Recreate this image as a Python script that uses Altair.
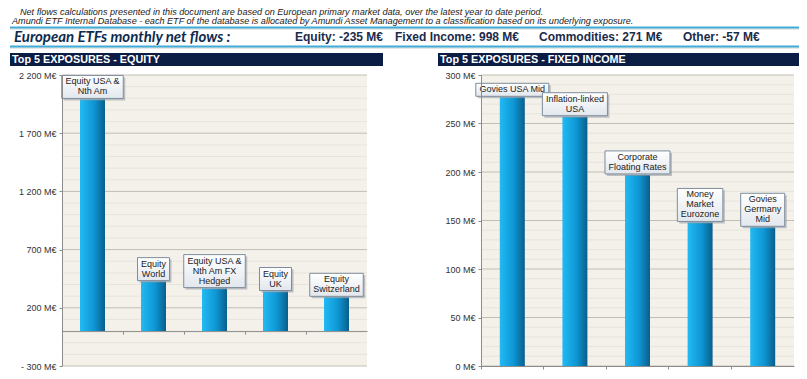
import altair as alt
import pandas as pd

# ---------------- data ----------------
note_lines = [
    "Net flows calculations presented in this document are based on European primary market data, over the latest  year to date period.",
    "Amundi ETF Internal Database - each ETF of the database is allocated by Amundi Asset Management to a classification based on its underlying exposure.",
]
headline = "European ETFs monthly net flows :"
flow_labels = ["Equity: -235 M€", "Fixed Income: 998 M€", "Commodities: 271 M€", "Other: -57 M€"]

eq_title = "Top 5 EXPOSURES - EQUITY"
eq_categories = ["Equity USA &\nNth Am", "Equity\nWorld", "Equity USA &\nNth Am FX\nHedged", "Equity\nUK", "Equity\nSwitzerland"]
eq_values = [1990, 425, 365, 340, 290]
eq_ticks = [-300, 200, 700, 1200, 1700, 2200]
eq_domain = [-300, 2200]

fi_title = "Top 5 EXPOSURES - FIXED INCOME"
fi_categories = ["Govies USA Mid", "Inflation-linked\nUSA", "Corporate\nFloating Rates", "Money\nMarket\nEurozone", "Govies\nGermany\nMid"]
fi_values = [277, 257, 197, 148, 143]
fi_ticks = [0, 50, 100, 150, 200, 250, 300]
fi_domain = [0, 300]

# ---------------- layout / style ----------------
W, H = 791, 363
Y_TOP, Y_BOT = 67, 358
EQ_X = [54, 359]
FI_X = [473, 786]
FONT = "Liberation Sans, Arial, sans-serif"
AX = "#8c8c8c"
PLOT_BG = "#f3f1ea"
MINOR = "#e7e4dc"
MAJOR = "#c2beb3"
NAVY = "#0b1d45"
CYAN = "#41acd8"

BAR_GRAD = alt.Gradient(
    gradient="linear",
    stops=[alt.GradientStop(color="#22baf3", offset=0),
           alt.GradientStop(color="#0e97d5", offset=0.55),
           alt.GradientStop(color="#0a5e8b", offset=1)],
    x1=0, x2=1, y1=0, y2=0,
)
BOX_GRAD = alt.Gradient(
    gradient="linear",
    stops=[alt.GradientStop(color="#ffffff", offset=0),
           alt.GradientStop(color="#e2e7ed", offset=1)],
    x1=0, x2=0, y1=0, y2=1,
)

ARIAL = {' ': 278, '&': 667, '-': 333, 'A': 667, 'C': 722, 'E': 667, 'F': 611, 'G': 778, 'H': 722,
         'I': 278, 'K': 667, 'M': 833, 'N': 722, 'R': 722, 'S': 667, 'U': 722, 'W': 944, 'Z': 611,
         'a': 556, 'b': 556, 'c': 500, 'd': 556, 'e': 556, 'f': 278, 'g': 556, 'h': 556, 'i': 222,
         'k': 500, 'l': 222, 'm': 833, 'n': 556, 'o': 556, 'p': 556, 'r': 333, 's': 500, 't': 278,
         'u': 556, 'v': 500, 'w': 722, 'y': 500, 'z': 500}


def box_width(label, size=9):
    return max(sum(ARIAL.get(c, 556) for c in ln) for ln in label.split("\n")) * size / 1000 + 7


def n_lines(label):
    return label.count("\n") + 1


LABEL_EXPR = "(datum.value < 0 ? '- ' : '') + replace(format(abs(datum.value), ','), ',', ' ') + ' M€'"
ONE = pd.DataFrame({"k": [0]})


def text_at(text, x, y, **style):
    return alt.Chart(pd.DataFrame({"t": [text]})).mark_text(
        align="left", baseline="middle", **style
    ).encode(x=alt.value(x), y=alt.value(y), text="t:N")


def hline(x0, x1, y, color, width):
    return alt.Chart(ONE).mark_rule(color=color, strokeWidth=width).encode(
        x=alt.value(x0), x2=alt.value(x1), y=alt.value(y))


def panel(cats, vals, ticks, domain, minor, xr):
    df = pd.DataFrame({"cat": cats, "value": vals})
    df["bw"] = [box_width(c) for c in cats]
    df["n"] = [n_lines(c) for c in cats]
    y0 = Y_BOT - (0 - domain[0]) / (domain[1] - domain[0]) * (Y_BOT - Y_TOP)

    xs = alt.Scale(domain=cats, range=xr, paddingInner=0, paddingOuter=0)
    ys = alt.Scale(domain=domain, range=[Y_BOT, Y_TOP], nice=False, zero=False)
    xaxis = alt.Axis(orient="bottom", offset=y0 - H, labels=False, title=None, ticks=True,
                     tickSize=3, tickColor=AX, domain=True, domainColor=AX, bandPosition=0,
                     grid=False, zindex=3)
    yaxis = alt.Axis(orient="left", offset=-xr[0], values=ticks, labelExpr=LABEL_EXPR, title=None,
                     grid=False, domain=True, domainColor=AX, ticks=True, tickSize=3, tickColor=AX,
                     labelFont=FONT, labelFontSize=9, labelColor="#333333", labelPadding=3, zindex=3)
    X = alt.X("cat:N", scale=xs, sort=cats, axis=xaxis)

    def Y(f):
        return alt.Y(f, scale=ys, axis=yaxis)

    bg = alt.Chart(ONE).mark_rect(color=PLOT_BG).encode(
        x=alt.value(xr[0]), x2=alt.value(xr[1]), y=alt.value(Y_TOP), y2=alt.value(Y_BOT))
    minor_rules = alt.Chart(pd.DataFrame({"v": minor})).mark_rule(color=MINOR, strokeWidth=1).encode(
        y=Y("v:Q"), x=alt.value(xr[0]), x2=alt.value(xr[1]))
    major_rules = alt.Chart(pd.DataFrame({"v": ticks})).mark_rule(color=MAJOR, strokeWidth=1).encode(
        y=Y("v:Q"), x=alt.value(xr[0]), x2=alt.value(xr[1]))
    bars = alt.Chart(df).mark_bar(fill=BAR_GRAD, size=25).encode(
        x=X, y=Y("value:Q"), y2=alt.datum(0))

    layers = [bg, minor_rules, major_rules, bars]
    for k in sorted(set(df["n"])):
        hh = 10 * k + 3
        base = alt.Chart(df).transform_filter(f"datum.n == {k}")
        shadow = base.mark_bar(fill="#8f959c", opacity=0.55, xOffset=2, yOffset=1, y2Offset=-(hh - 1)).encode(
            x=X, y=Y("value:Q"), y2=alt.Y2("value:Q"), size=alt.Size("bw:Q", scale=None, legend=None))
        box = base.mark_bar(fill=BOX_GRAD, stroke="#7e8d9d", strokeWidth=1, yOffset=-1, y2Offset=-(1 + hh)).encode(
            x=X, y=Y("value:Q"), y2=alt.Y2("value:Q"), size=alt.Size("bw:Q", scale=None, legend=None))
        text = base.mark_text(lineBreak="\n", lineHeight=10, font=FONT, fontSize=9, color="#222222",
                              baseline="bottom", dy=-3 - 10 * (k - 1)).encode(
            x=X, y=Y("value:Q"), text="cat:N")
        layers += [shadow, box, text]
    return alt.layer(*layers)


eq_minor = [v for v in range(-200, 2200, 100) if v not in eq_ticks]
fi_minor = [v for v in range(10, 300, 10) if v not in fi_ticks]

left = panel(eq_categories, eq_values, eq_ticks, eq_domain, eq_minor, EQ_X)
right = panel(fi_categories, fi_values, fi_ticks, fi_domain, fi_minor, FI_X)

header = [
    text_at(note_lines[0], 12, 3.5, font=FONT, fontSize=9.1, fontStyle="italic", color="#222222"),
    text_at(note_lines[1], 4, 12.5, font=FONT, fontSize=9.1, fontStyle="italic", color="#222222"),
    hline(2, 791, 21, "#cfcfcf", 1),
    hline(2, 791, 19.5, CYAN, 2),
    text_at(headline, 6, 28.5, font="Lato, Calibri, sans-serif", fontSize=15, fontWeight="bold",
            fontStyle="italic", color="#0d2b4e"),
]
flow_x = [287, 387, 531, 675]
for lbl, fx in zip(flow_labels, flow_x):
    header.append(text_at(lbl, fx, 29, font=FONT, fontSize=12, fontWeight="bold", color="#1b2b4b"))
header += [hline(2, 791, 40, "#cfcfcf", 1), hline(2, 791, 38.5, CYAN, 2)]

titles = []
for t, x0, x1 in [(eq_title, 2, 375), (fi_title, 430, 791)]:
    titles.append(alt.Chart(ONE).mark_rect(color=NAVY).encode(
        x=alt.value(x0), x2=alt.value(x1), y=alt.value(45), y2=alt.value(58)))
    titles.append(text_at(t, x0 + 2, 51.8, font=FONT, fontSize=10.8, fontWeight="bold", color="white"))

chart = alt.layer(*header, *titles, left, right).resolve_scale(
    x="independent", y="independent"
).properties(
    width=W, height=H, autosize=alt.AutoSizeParams(type="none"), padding=0, background="white"
).configure_view(stroke=None)

chart.save("out.html", embed_options={"renderer": "svg", "actions": False})
